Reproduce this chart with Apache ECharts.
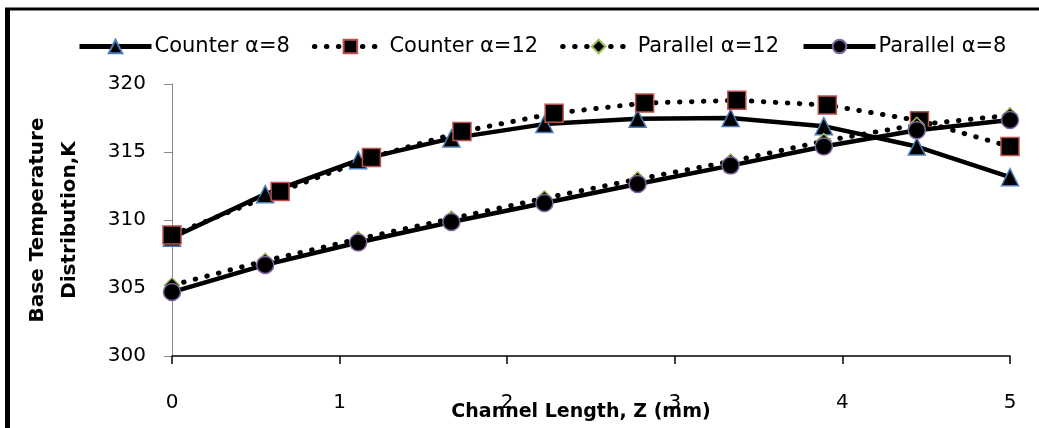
<!DOCTYPE html>
<html><head><meta charset="utf-8">
<script src="https://cdn.jsdelivr.net/npm/echarts@6/dist/echarts.min.js"></script>
<style>html,body{margin:0;padding:0;background:#fff}#c{width:1039px;height:428px}</style>
</head><body><div id="c"></div>
<script>
const seriesNames = ['Counter α=8', 'Counter α=12', 'Parallel α=12', 'Parallel α=8'];
const xTicks = [0, 1, 2, 3, 4, 5];
const xStd = [0, 0.556, 1.111, 1.667, 2.222, 2.778, 3.333, 3.889, 4.444, 5];
const xC12 = [0, 0.645, 1.19, 1.73, 2.28, 2.82, 3.37, 3.91, 4.46, 5];
const counter8 = [308.7, 311.9, 314.4, 316.0, 317.05, 317.45, 317.5, 316.9, 315.4, 313.15];
const counter12 = [308.9, 312.1, 314.6, 316.5, 317.85, 318.6, 318.8, 318.45, 317.3, 315.4];
const parallel12 = [305.2, 307.0, 308.6, 310.1, 311.6, 313.0, 314.3, 315.8, 317.0, 317.7];
const parallel8 = [304.7, 306.7, 308.35, 309.85, 311.25, 312.65, 314.0, 315.4, 316.6, 317.35];

const pair = (xs, ys) => xs.map((x, i) => [x, ys[i]]);
const dotted = [0.5, 11.5];
const chart = echarts.init(document.getElementById('c'), null, {renderer: 'canvas'});
const font = '"DejaVu Sans", sans-serif';
chart.setOption({
  animation: false,
  backgroundColor: '#fff',
  textStyle: {fontFamily: font},
  graphic: [
    {type: 'line', shape: {x1: 5, y1: 9, x2: 1039, y2: 9}, style: {stroke: '#000', lineWidth: 3}},
    {type: 'line', shape: {x1: 7.5, y1: 8, x2: 7.5, y2: 428}, style: {stroke: '#000', lineWidth: 5}}
  ],
  legend: {
    top: 31, left: 72,
    itemWidth: 72, itemHeight: 17, itemGap: 22,
    lineStyle: {width: 5},
    textStyle: {fontSize: 21, color: '#000', fontFamily: font, padding: [0, 0, 0, -2]},
    data: seriesNames
  },
  grid: {left: 172, right: 29, top: 84, bottom: 72, containLabel: false, outerBoundsMode: 'none'},
  xAxis: {
    type: 'value', min: 0, max: 5, interval: 1,
    name: 'Channel Length, Z (mm)', nameLocation: 'middle', nameGap: 47, nameMoveOverlap: false,
    nameTextStyle: {fontSize: 19, fontWeight: 'bold', color: '#000', fontFamily: font, padding: [0, 20, 0, 0]},
    axisLine: {lineStyle: {color: '#000', width: 1.5}},
    axisTick: {show: true, length: 8, lineStyle: {color: '#000', width: 1.5}},
    axisLabel: {fontSize: 20, color: '#000', margin: 37, formatter: v => xTicks.includes(v) ? String(v) : ''},
    splitLine: {show: false}
  },
  yAxis: {
    type: 'value', min: 300, max: 320, interval: 5,
    name: 'Base Temperature\nDistribution,K', nameLocation: 'middle', nameGap: 86, nameMoveOverlap: false,
    nameTextStyle: {fontSize: 20, fontWeight: 'bold', color: '#000', lineHeight: 32, fontFamily: font},
    axisLine: {show: true, lineStyle: {color: '#888', width: 1}},
    axisTick: {show: true, length: 8, lineStyle: {color: '#888'}},
    axisLabel: {fontSize: 20, color: '#000', margin: 26},
    splitLine: {show: false}
  },
  series: [
    {name: seriesNames[0], type: 'line', data: pair(xStd, counter8), symbol: 'triangle', symbolSize: 17,
     lineStyle: {color: '#000', width: 4.5}, itemStyle: {color: '#000', borderColor: '#4a7ebb', borderWidth: 1.5}, z: 2},
    {name: seriesNames[1], type: 'line', data: pair(xC12, counter12), symbol: 'rect', symbolSize: 18,
     lineStyle: {color: '#000', width: 5, type: dotted, cap: 'round'}, itemStyle: {color: '#000', borderColor: '#c0504d', borderWidth: 1.5}, z: 3},
    {name: seriesNames[2], type: 'line', data: pair(xStd, parallel12), symbol: 'diamond', symbolSize: 15,
     lineStyle: {color: '#000', width: 5, type: dotted, cap: 'round'}, itemStyle: {color: '#000', borderColor: '#9bbb59', borderWidth: 1.5}, z: 4},
    {name: seriesNames[3], type: 'line', data: pair(xStd, parallel8), symbol: 'circle', symbolSize: 17,
     lineStyle: {color: '#000', width: 4.5}, itemStyle: {color: '#000', borderColor: '#8064a2', borderWidth: 1.5}, z: 5}
  ]
});
</script></body></html>
